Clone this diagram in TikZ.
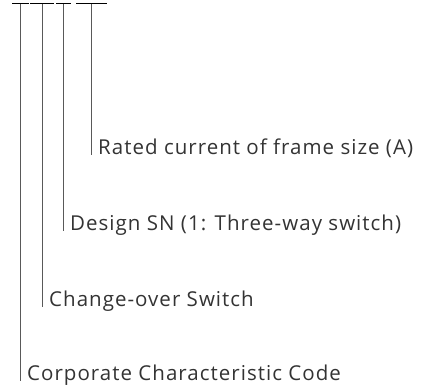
\documentclass[tikz,border=0pt]{standalone}
\usepackage{fontspec}
\setmainfont{Open Sans}[LetterSpace=5]
\begin{document}
\begin{tikzpicture}[x=1pt,y=1pt,
  bar/.style={draw=black,line width=1pt},
  lead/.style={draw=black!65,line width=0.9pt},
  lbl/.style={anchor=base west,inner sep=0pt,text=black!80,font=\fontsize{20.5}{24}\selectfont}]
\useasboundingbox (0,0) rectangle (421,-387);
% bar tops
\coordinate (t1) at (20,-4);
\coordinate (t2) at (42,-4);
\coordinate (t3) at (63,-4);
\coordinate (t4) at (91,-4);
\draw[bar] (12,-4) -- (29,-4);
\draw[bar] (30,-4) -- (54,-4);
\draw[bar] (56,-4) -- (71,-4);
\draw[bar] (76,-4) -- (107,-4);
% labels
\node[lbl] (l4) at (98,-155) {Rated current of frame size (A)};
\node[lbl] (l3) at (70,-231) {Design SN (1: Three-way switch)};
\node[lbl] (l2) at (49,-307) {Change-over Switch};
\node[lbl] (l1) at (27,-381) {Corporate Characteristic Code};
% leads
\draw[lead] (t4) -- (t4 |- l4.base);
\draw[lead] (t3) -- (t3 |- l3.base);
\draw[lead] (t2) -- (t2 |- l2.base);
\draw[lead] (t1) -- (t1 |- l1.base);
\end{tikzpicture}
\end{document}
